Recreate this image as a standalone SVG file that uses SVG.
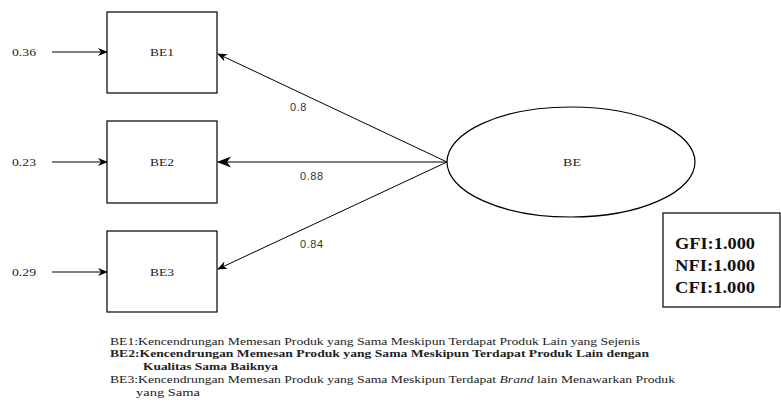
<svg xmlns="http://www.w3.org/2000/svg" width="781" height="414" viewBox="0 0 781 414">
  <style>
    .box { fill: #ffffff; stroke: #000000; stroke-width: 1.2; }
    .lbl { font-family: "Liberation Serif", "Times New Roman", serif; font-size: 11px; fill: #222222; }
    .num { font-family: "Liberation Sans", Arial, sans-serif; font-size: 11px; letter-spacing: 0.6px; fill: #333333; }
    .fit { font-family: "Liberation Serif", "Times New Roman", serif; font-size: 16px; font-weight: bold; fill: #111111; }
    .note { font-family: "Liberation Serif", "Times New Roman", serif; font-size: 11px; fill: #222222; }
    .edge { stroke: #000000; stroke-width: 1; fill: none; }
  </style>
  <defs>
    <marker id="arr" markerWidth="10" markerHeight="10" refX="9" refY="5" orient="auto" markerUnits="userSpaceOnUse">
      <path d="M0,1 L10,5 L0,9 L3,5 Z" fill="#000000"/>
    </marker>
    <marker id="arrBig" markerWidth="14" markerHeight="14" refX="13" refY="7" orient="auto" markerUnits="userSpaceOnUse">
      <path d="M0,1.5 L14,7 L0,12.5 L4,7 Z" fill="#000000"/>
    </marker>
  </defs>

  <g id="connectors">
    <line class="edge" x1="52" y1="52" x2="107" y2="52" stroke-width="1.3" marker-end="url(#arr)"/>
    <line class="edge" x1="52" y1="162" x2="107" y2="162" stroke-width="1.3" marker-end="url(#arr)"/>
    <line class="edge" x1="52" y1="272" x2="107" y2="272" stroke-width="1.3" marker-end="url(#arr)"/>
    <line class="edge" x1="447" y1="162" x2="218" y2="54" marker-end="url(#arr)"/>
    <line class="edge" x1="447" y1="162" x2="218" y2="162" stroke-width="2.6" marker-end="url(#arrBig)"/>
    <line class="edge" x1="447" y1="162" x2="218" y2="269" marker-end="url(#arr)"/>
  </g>

  <g id="error-labels">
    <text class="lbl" x="12" y="56" textLength="24" lengthAdjust="spacingAndGlyphs">0.36</text>
    <text class="lbl" x="12" y="166" textLength="24" lengthAdjust="spacingAndGlyphs">0.23</text>
    <text class="lbl" x="12" y="276" textLength="24" lengthAdjust="spacingAndGlyphs">0.29</text>
  </g>

  <g id="loading-labels">
    <text class="num" x="290" y="111">0.8</text>
    <text class="num" x="300" y="180">0.88</text>
    <text class="num" x="300" y="248">0.84</text>
  </g>

  <g id="BE1">
    <rect class="box" x="107" y="12" width="110" height="81"/>
    <text class="lbl" x="150" y="56" textLength="24" lengthAdjust="spacingAndGlyphs">BE1</text>
  </g>
  <g id="BE2">
    <rect class="box" x="107" y="121" width="110" height="82"/>
    <text class="lbl" x="150" y="166" textLength="24" lengthAdjust="spacingAndGlyphs">BE2</text>
  </g>
  <g id="BE3">
    <rect class="box" x="107" y="231" width="110" height="81"/>
    <text class="lbl" x="150" y="276" textLength="24" lengthAdjust="spacingAndGlyphs">BE3</text>
  </g>

  <g id="BE">
    <ellipse class="box" cx="571" cy="162" rx="124" ry="55"/>
    <text class="lbl" x="563" y="166" textLength="18" lengthAdjust="spacingAndGlyphs">BE</text>
  </g>

  <g id="fit-indices">
    <rect class="box" x="663" y="213" width="117" height="94"/>
    <text class="fit" x="675" y="249" textLength="80" lengthAdjust="spacingAndGlyphs">GFI:1.000</text>
    <text class="fit" x="675" y="271" textLength="80" lengthAdjust="spacingAndGlyphs">NFI:1.000</text>
    <text class="fit" x="675" y="293" textLength="80" lengthAdjust="spacingAndGlyphs">CFI:1.000</text>
  </g>

  <g id="legend">
    <text class="note" x="110" y="345" textLength="530" lengthAdjust="spacingAndGlyphs">BE1:Kencendrungan Memesan Produk yang Sama Meskipun Terdapat Produk Lain yang Sejenis</text>
    <text class="note" x="110" y="357" font-weight="bold" textLength="539" lengthAdjust="spacingAndGlyphs">BE2:Kencendrungan Memesan Produk yang Sama Meskipun Terdapat Produk Lain dengan</text>
    <text class="note" x="143" y="370" font-weight="bold" textLength="135" lengthAdjust="spacingAndGlyphs">Kualitas Sama Baiknya</text>
    <text class="note" x="110" y="383" textLength="565" lengthAdjust="spacingAndGlyphs">BE3:Kencendrungan Memesan Produk yang Sama Meskipun Terdapat <tspan font-style="italic">Brand</tspan> lain Menawarkan Produk</text>
    <text class="note" x="136" y="396" textLength="64" lengthAdjust="spacingAndGlyphs">yang Sama</text>
  </g>
</svg>
